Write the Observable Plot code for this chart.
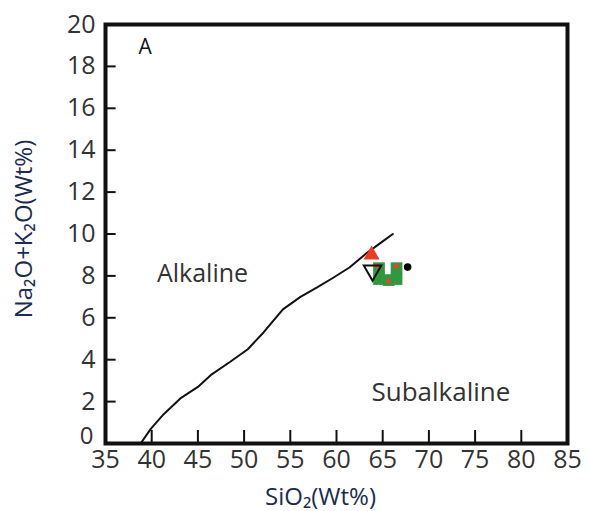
<!DOCTYPE html>
<html>
<head>
<meta charset="utf-8">
<script src="https://cdn.jsdelivr.net/npm/d3@7"></script>
<script src="https://cdn.jsdelivr.net/npm/@observablehq/plot@0.6"></script>
<style>
  html, body { margin: 0; padding: 0; background: #fff; }
</style>
</head>
<body>
<div id="chart"></div>
<script>
const xTicks = [35, 40, 45, 50, 55, 60, 65, 70, 75, 80, 85];
const yTicks = [0, 2, 4, 6, 8, 10, 12, 14, 16, 18, 20];

// Alkaline / Subalkaline boundary
const boundarySiO2 = [38.8, 39.9, 41.3, 43.1, 45.0, 46.5, 48.5, 50.4, 52.1, 54.2, 56.1, 57.9, 59.6, 61.4, 63.3, 65.0, 66.1];
const boundaryAlk  = [0.0, 0.7, 1.4, 2.15, 2.7, 3.3, 3.9, 4.5, 5.3, 6.4, 7.0, 7.45, 7.9, 8.4, 9.1, 9.65, 10.0];

// samples
const greenSiO2 = [64.6, 64.6, 65.65, 66.5, 66.5];
const greenAlk  = [8.37, 7.85, 7.8, 8.37, 7.85];
const redSqSiO2 = [64.4, 66.5, 65.65];
const redSqAlk  = [8.47, 8.47, 7.75];
const redTriSiO2 = [63.8];
const redTriAlk  = [9.0];
const blackTriSiO2 = [63.9];
const blackTriAlk  = [8.25];
const blackDotSiO2 = [67.7];
const blackDotAlk  = [8.42];

const zip = (xs, ys) => xs.map((x, i) => ({x, y: ys[i]}));
const boundary = zip(boundarySiO2, boundaryAlk);

const chart = Plot.plot({
  width: 589,
  height: 511,
  marginLeft: 105,
  marginRight: 22,
  marginTop: 24,
  marginBottom: 68,
  style: {fontFamily: "Open Sans", fontSize: "25px", color: "#333", background: "#fff"},
  x: {domain: [35, 85]},
  y: {domain: [0, 20]},
  marks: [
    Plot.axisX({ticks: xTicks, tickSize: 0, tickPadding: 7, fontSize: 25, label: null}),
    Plot.axisY({ticks: yTicks.slice(1), tickSize: 0, tickPadding: 10, fontSize: 25, label: null}),
    Plot.axisY({ticks: yTicks.slice(0, 1), tickSize: 0, tickPadding: 12, dy: -7, fontSize: 24, label: null}),
    Plot.text(["SiO₂(Wt%)"], {frameAnchor: "bottom", dx: -16, dy: 54, fontSize: 24, fill: "#1c2b52", textAnchor: "middle", lineAnchor: "middle"}),
    Plot.text(["Na₂O+K₂O(Wt%)"], {frameAnchor: "left", dx: -81, dy: -5, rotate: -90, fontSize: 24, fill: "#1c2b52", textAnchor: "middle", lineAnchor: "middle"}),
    Plot.ruleX(xTicks.slice(1, -1), {y1: 0, y2: 0.62, stroke: "#111", strokeWidth: 2}),
    Plot.ruleY(yTicks.slice(1, -1), {x1: 35, x2: 36.15, stroke: "#111", strokeWidth: 2}),
    Plot.line(boundary, {x: "x", y: "y", stroke: "#111", strokeWidth: 2, curve: "linear"}),
    Plot.text(["A"], {x: 39.3, y: 18.9, fontSize: 21, fill: "#111"}),
    Plot.text(["Alkaline"], {x: 45.5, y: 8.1, fontSize: 25, fill: "#333"}),
    Plot.text(["Subalkaline"], {x: 71.3, y: 2.45, fontSize: 26, fill: "#333"}),
    Plot.dot(zip(greenSiO2, greenAlk), {x: "x", y: "y", symbol: "square", r: 6.6, fill: "#2e9a3e"}),
    Plot.dot(zip(redSqSiO2, redSqAlk), {x: "x", y: "y", symbol: "square", r: 2.6, fill: "#e8432c"}),
    Plot.dot(zip(redTriSiO2, redTriAlk), {x: "x", y: "y", symbol: "triangle", r: 6, fill: "#ee3b24"}),
    Plot.dot(zip(blackTriSiO2, blackTriAlk), {x: "x", y: "y", symbol: "triangle", r: 6.5, rotate: 180, fill: "none", stroke: "#111", strokeWidth: 2}),
    Plot.dot(zip(blackDotSiO2, blackDotAlk), {x: "x", y: "y", r: 3.8, fill: "#000"}),
    Plot.frame({stroke: "#111", strokeWidth: 4})
  ]
});
document.getElementById("chart").appendChild(chart);
</script>
</body>
</html>
